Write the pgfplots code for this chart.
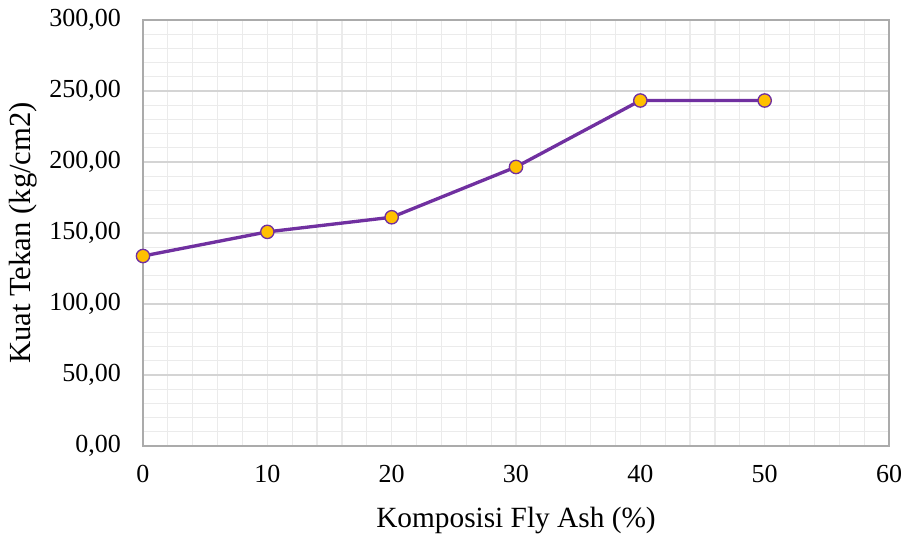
\documentclass[border=0pt]{standalone}
\usepackage{fontspec}
\setmainfont{Liberation Serif}
\usepackage{pgfplots}
\pgfplotsset{compat=1.18}

\definecolor{garis}{HTML}{7030A0}
\definecolor{titik}{HTML}{FFC000}

\begin{document}
\begin{tikzpicture}
    % bounding box = 907x536 px at 0.75pt/px, axis south west at origin
    \path[use as bounding box] (-107.25pt,-67.5pt) rectangle (573pt,334.5pt);
    \begin{axis}[
        at={(0,0)}, anchor=south west,
        scale only axis,
        width=559.5pt, height=319.5pt,
        xmin=0, xmax=60,
        ymin=0, ymax=300,
        xtick={0,10,...,60},
        ytick={0,50,...,300},
        minor x tick num=4,
        minor y tick num=4,
        xmajorgrids, xminorgrids,
        ymajorgrids, yminorgrids,
        major x grid style={color=black!8, line width=0.9pt},
        minor x grid style={color=black!8, line width=0.9pt},
        major y grid style={color=black!17, line width=0.9pt},
        minor y grid style={color=black!8, line width=0.9pt},
        major tick length=0pt, minor tick length=0pt,
        axis line style={color=black!33, line width=1.1pt},
        tick label style={font=\fontsize{19.5}{23}\selectfont, text=black},
        label style={text=black},
        xticklabel style={yshift=-11pt},
        yticklabel style={xshift=-13pt},
        /pgf/number format/assume math mode=true,
        yticklabel style={/pgf/number format/.cd, fixed, fixed zerofill, precision=2, use comma},
        scaled y ticks=false,
        xlabel={Komposisi Fly Ash (\%)},
        ylabel={Kuat Tekan (kg/cm2)},
        xlabel style={font=\fontsize{22}{26}\selectfont, at={(axis description cs:0.5,-0.174)}, anchor=center},
        ylabel style={font=\fontsize{23}{27}\selectfont, at={(axis description cs:-0.160,0.5)}, anchor=center},
    ]
    \addplot[
        color=garis,
        line width=2.5pt,
        mark=*,
        mark size=5pt,
        mark options={fill=titik, draw=garis, line width=1pt}
    ]
    coordinates {(0,133.8)(10,150.8)(20,161.1)(30,196.5)(40,243.3)(50,243.3)};
    \end{axis}
\end{tikzpicture}
\end{document}
